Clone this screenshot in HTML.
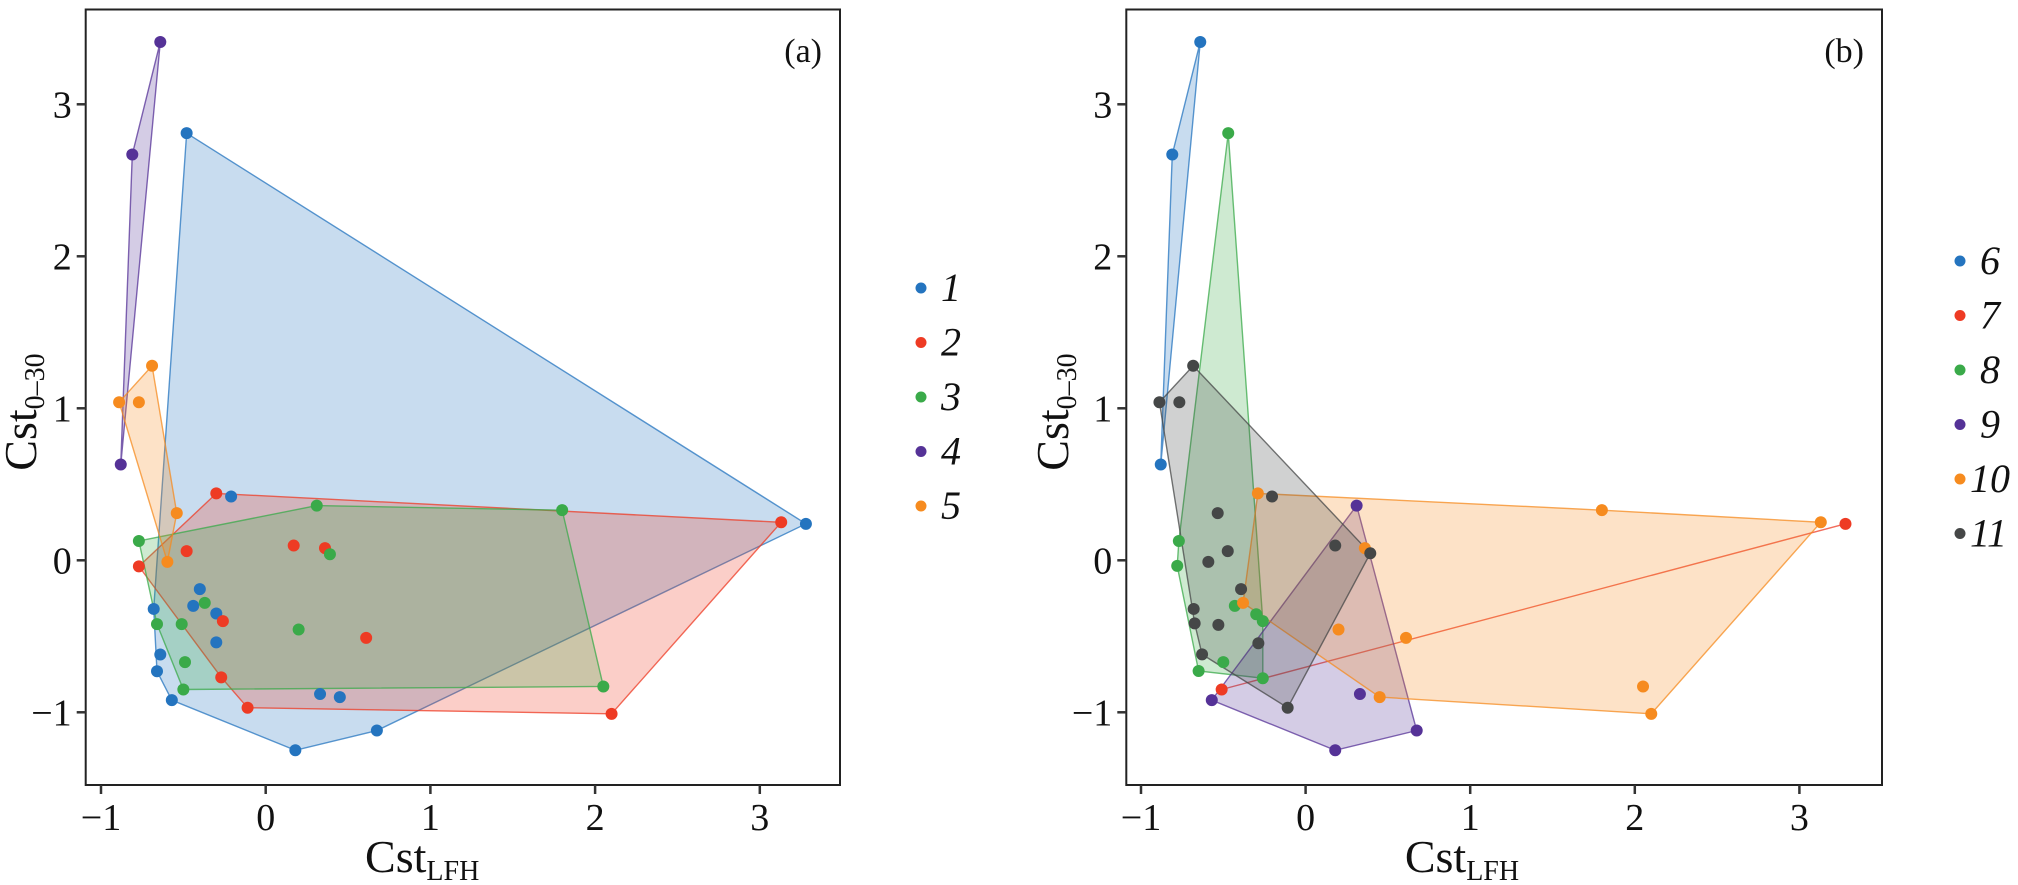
<!DOCTYPE html>
<html><head><meta charset="utf-8"><style>
html,body{margin:0;padding:0;background:#fff;}
svg{display:block;font-family:"Liberation Serif","Times New Roman",serif;}
svg text{font-family:"Liberation Serif","Times New Roman",serif;}
</style></head><body>
<svg id="chart" width="2018" height="885" viewBox="0 0 2018 885" font-family="Liberation Serif, serif" xmlns="http://www.w3.org/2000/svg"></svg>
<script>
// ---- data ----
const xTicks = [-1, 0, 1, 2, 3];
const yTicks = [-1, 0, 1, 2, 3];
const groupsA = ["1", "2", "3", "4", "5"];
const groupsB = ["6", "7", "8", "9", "10", "11"];
const colorsA = ["#2474bf", "#ee3b24", "#3aaa49", "#553297", "#f68b1f"];
const colorsB = ["#2474bf", "#ee3b24", "#3aaa49", "#553297", "#f68b1f", "#454747"];
// panel (a) points
const a1x = [-0.48, -0.21, -0.40, -0.44, -0.30, -0.30, -0.68, -0.64, -0.66, -0.57, 0.18, 0.675, 0.33, 0.45, 3.28];
const a1y = [2.81, 0.42, -0.19, -0.30, -0.35, -0.54, -0.32, -0.62, -0.73, -0.92, -1.25, -1.12, -0.88, -0.90, 0.24];
const a2x = [-0.30, -0.48, -0.77, -0.26, -0.27, -0.11, 0.17, 0.36, 0.61, 2.10, 3.13];
const a2y = [0.44, 0.06, -0.04, -0.40, -0.77, -0.97, 0.097, 0.08, -0.51, -1.01, 0.25];
const a3x = [-0.77, -0.66, -0.51, -0.37, -0.49, -0.50, 0.20, 0.31, 1.80, 0.39, 2.05];
const a3y = [0.127, -0.42, -0.42, -0.28, -0.67, -0.85, -0.455, 0.36, 0.33, 0.04, -0.83];
const a4x = [-0.64, -0.81, -0.88];
const a4y = [3.41, 2.67, 0.63];
const a5x = [-0.69, -0.89, -0.77, -0.54, -0.597];
const a5y = [1.28, 1.04, 1.04, 0.31, -0.01];
// panel (b) points
const b6x = [-0.64, -0.81, -0.88];
const b6y = [3.41, 2.67, 0.63];
const b7x = [-0.51, 3.28];
const b7y = [-0.85, 0.24];
const b8x = [-0.47, -0.77, -0.78, -0.43, -0.30, -0.26, -0.50, -0.65, -0.26];
const b8y = [2.81, 0.127, -0.037, -0.30, -0.355, -0.40, -0.67, -0.728, -0.776];
const b9x = [0.31, 0.33, -0.57, 0.675, 0.18];
const b9y = [0.36, -0.88, -0.92, -1.12, -1.25];
const b10x = [-0.29, 1.80, 0.36, -0.38, 0.20, 0.61, 0.45, 3.13, 2.05, 2.10];
const b10y = [0.44, 0.33, 0.08, -0.28, -0.455, -0.51, -0.90, 0.25, -0.83, -1.01];
const b11x = [-0.683, -0.888, -0.767, -0.204, -0.534, -0.473, -0.591, -0.392, -0.68, -0.674, -0.53, -0.287, -0.629, -0.109, 0.18, 0.393];
const b11y = [1.28, 1.04, 1.04, 0.42, 0.31, 0.06, -0.01, -0.19, -0.32, -0.415, -0.425, -0.546, -0.619, -0.97, 0.097, 0.046];

const NS = "http://www.w3.org/2000/svg";
const FF = "Liberation Serif, Times New Roman, serif";
const svg = document.getElementById("chart");
function mk(tag, attrs, parent){
  const e = document.createElementNS(NS, tag);
  for (const k in attrs) e.setAttribute(k, attrs[k]);
  if (tag === "text") e.setAttribute("font-family", FF);
  (parent || svg).appendChild(e);
  return e;
}
function hull(pts){
  const p = pts.slice().sort((a,b)=>a[0]-b[0]||a[1]-b[1]);
  if (p.length < 3) return p;
  const cr=(o,a,b)=>(a[0]-o[0])*(b[1]-o[1])-(a[1]-o[1])*(b[0]-o[0]);
  const lo=[],up=[];
  for(const q of p){while(lo.length>=2&&cr(lo[lo.length-2],lo[lo.length-1],q)<=0)lo.pop();lo.push(q);}
  for(let i=p.length-1;i>=0;i--){const q=p[i];while(up.length>=2&&cr(up[up.length-2],up[up.length-1],q)<=0)up.pop();up.push(q);}
  up.pop();lo.pop();return lo.concat(up);
}

function panel(cfg){
  const sx = v => cfg.x0 + cfg.ux * v;
  const sy = v => 560.3 - 152 * v;
  const g = mk("g", {});
  
  
  cfg.xs.forEach((xs, i) => {
    const pts = hull(xs.map((x, j) => [sx(x), sy(cfg.ys[i][j])]));
    const poly = mk("polygon", {points: pts.map(p => p.join(",")).join(" "), fill: cfg.colors[i], "fill-opacity": 0.25, stroke: cfg.colors[i], "stroke-opacity": 0.75, "stroke-width": 1.4}, g);
    
    
  });
  cfg.xs.forEach((xs, i) => {
    xs.forEach((x, j) => {
      const c = mk("circle", {cx: sx(x), cy: sy(cfg.ys[i][j]), r: 6, fill: cfg.colors[i]}, g);
      
      
    });
  });
  const fr = mk("rect", {x: cfg.left, y: 9.5, width: cfg.right - cfg.left, height: 785 - 9.5, fill: "none", stroke: "#222", "stroke-width": 2}, g);
  
  
  xTicks.forEach(t => {
    mk("line", {x1: sx(t), x2: sx(t), y1: 785, y2: 794, stroke: "#333", "stroke-width": 2.5}, g);
    const tx = mk("text", {x: sx(t), y: 830, "font-size": 38, "text-anchor": "middle", fill: "#111"}, g);
    tx.textContent = t < 0 ? "\u2212" + Math.abs(t) : String(t);
    
    
  });
  yTicks.forEach(t => {
    mk("line", {x1: cfg.left - 9, x2: cfg.left, y1: sy(t), y2: sy(t), stroke: "#333", "stroke-width": 2.5}, g);
    const ty = mk("text", {x: cfg.left - 14, y: sy(t) + 13, "font-size": 38, "text-anchor": "end", fill: "#111"}, g);
    ty.textContent = t < 0 ? "\u2212" + Math.abs(t) : String(t);
    
    
  });
  const xt = mk("text", {x: sx(0.95), y: 872, "font-size": 46, "text-anchor": "middle", fill: "#111"}, g);
  xt.innerHTML = 'Cst<tspan font-size="28" dy="8">LFH</tspan>';
  
  
  const yt = mk("text", {x: 0, y: 0, "font-size": 46, "text-anchor": "middle", fill: "#111", transform: "translate(" + cfg.ytx + ",412) rotate(-90)"}, g);
  yt.innerHTML = 'Cst<tspan font-size="28" dy="8">0\u201330</tspan>';
  
  
  const pl = mk("text", {x: cfg.right - 18, y: 62, "font-size": 34, "text-anchor": "end", fill: "#111"}, g);
  pl.textContent = cfg.label;
  
  
  cfg.groups.forEach((gname, i) => {
    const ly = cfg.ly0 + i * 54.5;
    const d = mk("circle", {cx: cfg.lx, cy: ly, r: 5.5, fill: cfg.colors[i]}, g);
    
    
    const lt = mk("text", {x: cfg.lx + (gname.length > 1 ? 10 : 20), y: ly + 13, "font-size": 40, "font-style": "italic", fill: "#111"}, g);
    lt.textContent = gname;
    
    
  });
}

panel({name: "panel-a", x0: 265.7, ux: 164.7, left: 85.7, right: 840, ytx: 36, label: "(a)",
  xs: [a1x, a2x, a3x, a4x, a5x], ys: [a1y, a2y, a3y, a4y, a5y], colors: colorsA, groups: groupsA, lx: 921, ly0: 288});
panel({name: "panel-b", x0: 1305.6, ux: 164.6, left: 1126.3, right: 1882, ytx: 1068, label: "(b)",
  xs: [b6x, b7x, b8x, b9x, b10x, b11x], ys: [b6y, b7y, b8y, b9y, b10y, b11y], colors: colorsB, groups: groupsB, lx: 1960, ly0: 261});
</script>
</body></html>
